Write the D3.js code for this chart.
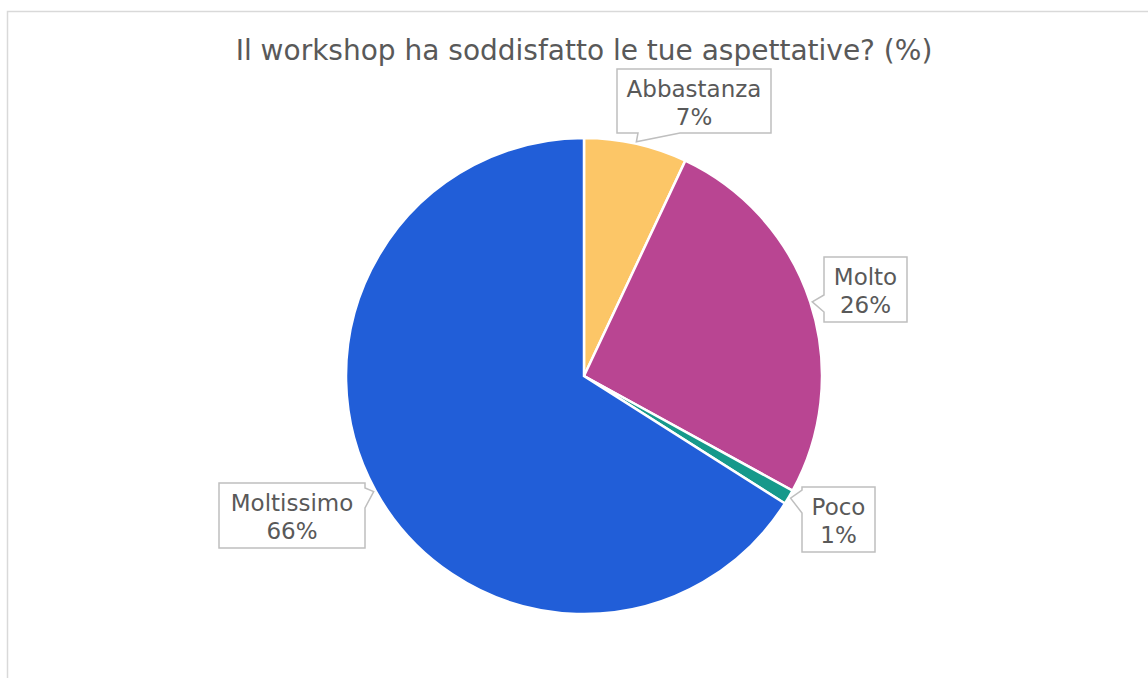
<!DOCTYPE html>
<html>
<head>
<meta charset="utf-8">
<script src="https://cdnjs.cloudflare.com/ajax/libs/d3/7.8.5/d3.min.js"></script>
<style>
  body { margin: 0; background: #fff; }
  svg { display: block; }
</style>
</head>
<body>
<div class="vis-pie"></div>
<script>
const categories = ["Abbastanza", "Molto", "Poco", "Moltissimo"];
const values = [7, 26, 1, 66];
const colors = ["#fcc667", "#b94592", "#16998b", "#215ed8"];
const labels = ["7%", "26%", "1%", "66%"];

const width = 1148, height = 678;
const cx = 584, cy = 376, radius = 238;
const font = "DejaVu Sans";

const svg = d3.select(".vis-pie").append("svg")
    .attr("width", width)
    .attr("height", height);

// frame
svg.append("path")
    .attr("d", "M7.5," + height + "V11.5H" + width)
    .attr("fill", "none")
    .attr("stroke", "#d9d9d9")
    .attr("stroke-width", 1.5);

svg.append("text")
    .attr("x", 584).attr("y", 60)
    .attr("text-anchor", "middle")
    .style("font-family", font)
    .style("font-size", "28px")
    .style("fill", "#595959")
    .text("Il workshop ha soddisfatto le tue aspettative? (%)");

const data = categories.map((c, i) => ({name: c, value: values[i], color: colors[i], label: labels[i]}));

const pie = d3.pie().value(d => d.value).sort(null);
const arc = d3.arc().innerRadius(0).outerRadius(radius);
const arcs = pie(data);

const g = svg.append("g").attr("transform", "translate(" + cx + "," + cy + ")");
g.selectAll("path")
  .data(arcs)
  .enter()
  .append("path")
    .attr("d", arc)
    .attr("fill", d => d.data.color)
    .attr("stroke", "#fff")
    .attr("stroke-width", 2.5);

// callout boxes, pointer base given as offsets along the side facing the pie
const boxes = [
  {x: 617, y: 69, w: 154, h: 64, side: "bottom", b0: 21, b1: 63},
  {x: 824, y: 257, w: 83, h: 65, side: "left", b0: 38, b1: 55},
  {x: 802, y: 487, w: 73, h: 65, side: "left", b0: 3, b1: 26},
  {x: 219, y: 483, w: 146, h: 65, side: "right", b0: 5, b1: 25}
];

boxes.forEach((b, i) => {
  const a = arcs[i];
  const ang = (a.startAngle + a.endAngle) / 2;
  const tx = cx + Math.sin(ang) * (radius + 2);
  const ty = cy - Math.cos(ang) * (radius + 2);
  const x0 = b.x, y0 = b.y, x1 = b.x + b.w, y1 = b.y + b.h;
  let d;
  if (b.side === "bottom") {
    d = `M${x0},${y0}H${x1}V${y1}H${x0 + b.b1}L${tx},${ty}L${x0 + b.b0},${y1}H${x0}Z`;
  } else if (b.side === "left") {
    d = `M${x0},${y0}H${x1}V${y1}H${x0}V${y0 + b.b1}L${tx},${ty}L${x0},${y0 + b.b0}Z`;
  } else {
    d = `M${x0},${y0}H${x1}V${y0 + b.b0}L${tx},${ty}L${x1},${y0 + b.b1}V${y1}H${x0}Z`;
  }
  svg.append("path")
    .attr("d", d)
    .attr("fill", "#fff")
    .attr("stroke", "#bfbfbf")
    .attr("stroke-width", 1.5);

  const t = svg.append("text")
    .attr("text-anchor", "middle")
    .style("font-family", font)
    .style("font-size", "23px")
    .style("fill", "#595959");
  t.append("tspan").attr("x", b.x + b.w / 2).attr("y", b.y + 28).text(data[i].name);
  t.append("tspan").attr("x", b.x + b.w / 2).attr("y", b.y + 56).text(data[i].label);
});
</script>
</body>
</html>
